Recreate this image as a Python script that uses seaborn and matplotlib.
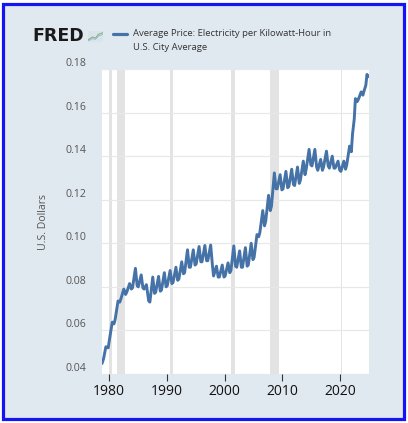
import matplotlib
matplotlib.use("Agg")
import matplotlib.pyplot as plt
import seaborn as sns
import pandas as pd
from matplotlib.patches import Rectangle
from matplotlib.lines import Line2D

# ---- data ----
dates = [
    1978.83, 1979.1, 1979.5, 1979.9,
    1980.1, 1980.6, 1980.9, 1981.1, 1981.6, 1981.9,
    1982.1, 1982.6, 1982.9, 1983.1, 1983.6, 1983.9,
    1984.1, 1984.6, 1984.9, 1985.1, 1985.6, 1985.9,
    1986.1, 1986.5, 1986.9, 1987.1, 1987.6, 1987.9,
    1988.1, 1988.6, 1988.9, 1989.1, 1989.6, 1989.9,
    1990.1, 1990.6, 1990.9, 1991.1, 1991.6, 1991.9,
    1992.1, 1992.6, 1992.9, 1993.1, 1993.6, 1993.9,
    1994.1, 1994.6, 1994.9, 1995.1, 1995.6, 1995.9,
    1996.1, 1996.6, 1996.9, 1997.1, 1997.6, 1997.9,
    1998.1, 1998.6, 1998.9, 1999.1, 1999.6, 1999.9,
    2000.1, 2000.6, 2000.9, 2001.1, 2001.6, 2001.9,
    2002.1, 2002.6, 2002.9, 2003.1, 2003.6, 2003.9,
    2004.1, 2004.6, 2004.9, 2005.1, 2005.6, 2005.9,
    2006.1, 2006.6, 2006.9, 2007.1, 2007.6, 2007.9,
    2008.1, 2008.6, 2008.9, 2009.1, 2009.6, 2009.9,
    2010.1, 2010.6, 2010.9, 2011.1, 2011.6, 2011.9,
    2012.1, 2012.6, 2012.9, 2013.1, 2013.6, 2013.9,
    2014.1, 2014.6, 2014.9, 2015.1, 2015.6, 2015.9,
    2016.1, 2016.6, 2016.9, 2017.1, 2017.6, 2017.9,
    2018.1, 2018.6, 2018.9, 2019.1, 2019.6, 2019.9,
    2020.1, 2020.6, 2020.9, 2021.1, 2021.6, 2021.9,
    2022.1, 2022.4, 2022.6, 2022.9, 2023.1, 2023.6, 2023.9,
    2024.1, 2024.4, 2024.6, 2024.85,
]
prices = [
    0.0448, 0.0470, 0.0525, 0.0520,
    0.0555, 0.0638, 0.0630, 0.0650, 0.0735, 0.0730,
    0.0745, 0.0790, 0.0765, 0.0775, 0.0815, 0.0790,
    0.0795, 0.0885, 0.0805, 0.0800, 0.0855, 0.0795,
    0.0790, 0.0810, 0.0735, 0.0730, 0.0845, 0.0770,
    0.0775, 0.0848, 0.0780, 0.0785, 0.0865, 0.0800,
    0.0805, 0.0875, 0.0815, 0.0820, 0.0890, 0.0830,
    0.0835, 0.0915, 0.0860, 0.0865, 0.0970, 0.0890,
    0.0890, 0.0970, 0.0900, 0.0905, 0.0985, 0.0915,
    0.0915, 0.0990, 0.0920, 0.0920, 0.0992, 0.0900,
    0.0850, 0.0895, 0.0845, 0.0845, 0.0900, 0.0845,
    0.0850, 0.0910, 0.0865, 0.0875, 0.0988, 0.0895,
    0.0890, 0.0965, 0.0890, 0.0890, 0.0980, 0.0895,
    0.0900, 0.1000, 0.0925, 0.0935, 0.1040, 0.1030,
    0.1050, 0.1150, 0.1080, 0.1100, 0.1220, 0.1150,
    0.1170, 0.1323, 0.1250, 0.1250, 0.1315, 0.1245,
    0.1250, 0.1330, 0.1255, 0.1260, 0.1340, 0.1270,
    0.1265, 0.1350, 0.1275, 0.1290, 0.1377, 0.1315,
    0.1340, 0.1431, 0.1360, 0.1355, 0.1431, 0.1350,
    0.1335, 0.1385, 0.1335, 0.1350, 0.1423, 0.1355,
    0.1345, 0.1400, 0.1345, 0.1345, 0.1377, 0.1335,
    0.1330, 0.1377, 0.1340, 0.1360, 0.1446, 0.1420,
    0.1500, 0.1570, 0.1664, 0.1650, 0.1660, 0.1695, 0.1680,
    0.1700, 0.1725, 0.1775, 0.1765,
]
rec_start = [1980.0, 1981.5, 1990.5, 2001.17, 2007.92, 2020.08]
rec_end = [1980.5, 1982.83, 1991.17, 2001.83, 2009.42, 2020.25]
x_ticks = [1980, 1990, 2000, 2010, 2020]
y_ticks = [0.04, 0.06, 0.08, 0.10, 0.12, 0.14, 0.16, 0.18]
y_tick_labels = ["0.04", "0.06", "0.08", "0.10", "0.12", "0.14", "0.16", "0.18"]
legend_line1 = "Average Price: Electricity per Kilowatt-Hour in"
legend_line2 = "U.S. City Average"
y_label = "U.S. Dollars"

sns.set_theme(style="white")
plt.rcParams['font.family'] = ['Open Sans', 'DejaVu Sans']

W, H = 408, 423
fig = plt.figure(figsize=(W / 100, H / 100), dpi=100)
fig.patch.set_facecolor('white')
fig.add_artist(Rectangle((3 / W, 4 / H), 401 / W, 415 / H, transform=fig.transFigure,
                         facecolor='#e1e9f0', edgecolor='#1414f5', lw=2.3, zorder=-10))

ax = fig.add_axes([102 / W, 1 - 374 / H, 267 / W, 305 / H])
ax.set_facecolor('white')
for s, e in zip(rec_start, rec_end):
    ax.axvspan(s, e, color='#e3e3e3', lw=0, zorder=0.5)

df = pd.DataFrame({'date': dates, 'price': prices})
sns.lineplot(data=df, x='date', y='price', ax=ax, color='#4572a7', lw=2.1,
             zorder=3, legend=False)

ax.set_xlim(1978.83, 2024.95)
ax.set_ylim(0.04, 0.18)
ax.set_xticks(x_ticks)
ax.set_xticklabels([str(t) for t in x_ticks])
ax.set_yticks(y_ticks)
ax.set_yticklabels(y_tick_labels, va='bottom')
ax.yaxis.grid(True, color='#e8e8e8', lw=0.9, zorder=1)
ax.xaxis.grid(False)
ax.set_axisbelow(True)
for sp in ax.spines.values():
    sp.set_visible(False)
ax.tick_params(axis='x', bottom=True, length=5, width=0.8, color='#333333',
               labelsize=10, labelcolor='#111111', pad=2)
ax.tick_params(axis='y', left=False, length=0, labelsize=7.6,
               labelcolor='#555555', pad=11)
ax.set_xlabel('')
ax.set_ylabel('')

fig.text(44 / W, 1 - 222 / H, y_label, rotation=90, ha='center', va='center',
         fontsize=7.6, color='#555555')

# header: FRED logo and legend
fig.text(32 / W, 1 - 36 / H, 'FRED', fontsize=12.5, weight='heavy',
         family=['DejaVu Sans'], color='#1a1a1a', va='center', ha='left')
icon = fig.add_axes([88 / W, 1 - 42 / H, 15 / W, 11 / H])
icon.set_facecolor('#d9e4ea')
icon.plot([0, 0.3, 0.5, 0.7, 1], [0.2, 0.45, 0.35, 0.7, 0.85], color='#7fb77e', lw=0.8)
icon.plot([0, 0.3, 0.5, 0.7, 1], [0.1, 0.3, 0.25, 0.55, 0.7], color='#9ab0c8', lw=0.6)
icon.set_xlim(0, 1); icon.set_ylim(0, 1)
icon.set_xticks([]); icon.set_yticks([])
for sp in icon.spines.values():
    sp.set_visible(False)

fig.add_artist(Line2D([113 / W, 127 / W], [1 - 33.5 / H, 1 - 33.5 / H],
                      transform=fig.transFigure, color='#4572a7', lw=2.3))
fig.text(133 / W, 1 - 34 / H, legend_line1, fontsize=6.8, color='#333333',
         va='center', ha='left')
fig.text(133 / W, 1 - 47 / H, legend_line2, fontsize=6.8, color='#333333',
         va='center', ha='left')

fig.savefig('out.png', dpi=100, facecolor=fig.get_facecolor())
